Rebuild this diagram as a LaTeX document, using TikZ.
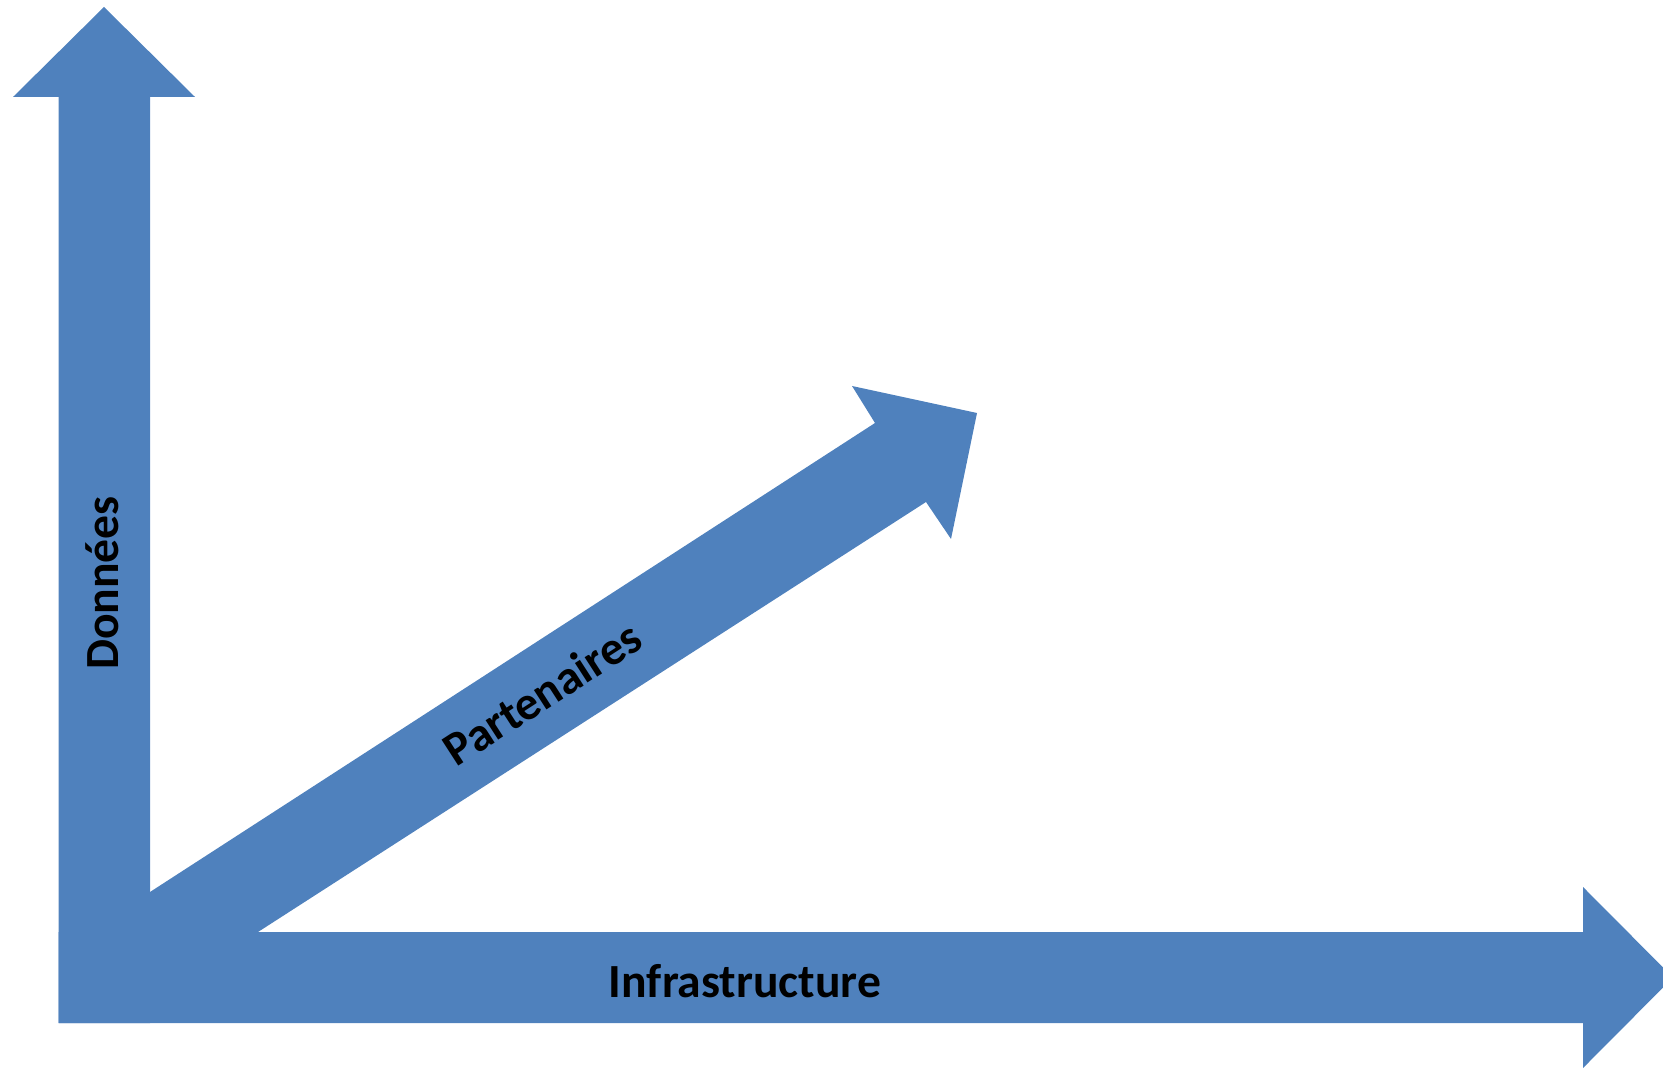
\documentclass[tikz,border=0pt]{standalone}
\usepackage{fontspec}
\setmainfont{Carlito}
\usepackage{tikz}
\definecolor{axisblue}{RGB}{79,129,189}
\tikzset{axis/.style={fill=axisblue, draw=none}, axislabel/.style={font=\bfseries\fontsize{23.8}{28}\selectfont, inner sep=0pt}}

\begin{document}
\begin{tikzpicture}[x=0.5pt, y=-0.5pt]
		%%%%% START %%%%%
		\useasboundingbox (0, 0) rectangle (1663, 1068);
		
		% vertical arrow
		\fill[axis] (58.5, 1023) -- (58.5, 97) -- (13, 97) -- (104, 7) -- (195, 97) -- (150, 97) -- (150, 1023) -- cycle;
		
		% horizontal arrow
		\fill[axis] (58.5, 932) -- (1583, 932) -- (1583, 887) -- (1673, 977.5) -- (1583, 1068) -- (1583, 1023) -- (58.5, 1023) -- cycle;
		
		% diagonal arrow
		\fill[axis] (150, 932) -- (150, 892) -- (875, 423) -- (852, 386) -- (977, 413) -- (951, 539) -- (926, 502) -- (258, 932) -- cycle;
		
		\node[axislabel, rotate=90] (donnees) at (102, 583) {Données};
		\node[axislabel] (infra) at (745, 981) {Infrastructure};
		\node[axislabel, rotate=32.9] (partenaires) at (542, 693) {Partenaires};
		%%%%% END %%%%%
	\end{tikzpicture}
\end{document}
